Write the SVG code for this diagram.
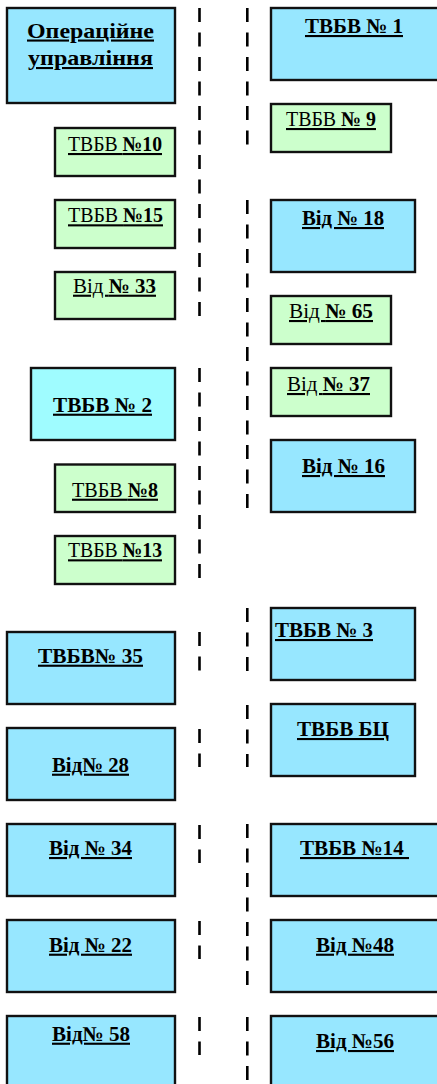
<svg xmlns="http://www.w3.org/2000/svg" width="437" height="1084" viewBox="0 0 437 1084">
<style>
.b{fill:#97e7ff;stroke:#111;stroke-width:2.4}
.c{fill:#9ffcff;stroke:#111;stroke-width:2.4}
.g{fill:#ccffcc;stroke:#111;stroke-width:2.4}
text{font-family:"Liberation Serif","Times New Roman",serif;font-size:21px;fill:#000;text-decoration:underline}
.bd{font-weight:bold}
.n{font-weight:normal}
.d{stroke:#000;stroke-width:2.6;stroke-dasharray:14 10.5;fill:none}
</style>
<rect width="437" height="1084" fill="#fff"/>
<g id="connectors">
<line class="d" x1="199.5" y1="8" x2="199.5" y2="316"/>
<line class="d" x1="199.5" y1="368" x2="199.5" y2="578"/>
<line class="d" x1="199.5" y1="632" x2="199.5" y2="671"/>
<line class="d" x1="199.5" y1="729" x2="199.5" y2="767"/>
<line class="d" x1="199.5" y1="825" x2="199.5" y2="863"/>
<line class="d" x1="199.5" y1="921" x2="199.5" y2="959"/>
<line class="d" x1="199.5" y1="1017" x2="199.5" y2="1055"/>
<line class="d" x1="247.3" y1="8" x2="247.3" y2="145"/>
<line class="d" x1="247.3" y1="200" x2="247.3" y2="508"/>
<line class="d" x1="247.3" y1="608" x2="247.3" y2="671"/>
<line class="d" x1="247.3" y1="705" x2="247.3" y2="767"/>
<line class="d" x1="247.3" y1="824" x2="247.3" y2="985"/>
<line class="d" x1="247.3" y1="1017" x2="247.3" y2="1084"/>
</g>
<g id="n-oper"><rect class="b" x="7" y="8" width="168" height="95"/>
<text class="bd" x="27" y="37.5" textLength="127" lengthAdjust="spacingAndGlyphs">Операційне</text>
<text class="bd" x="28" y="65" textLength="125" lengthAdjust="spacingAndGlyphs">управління</text></g>
<g id="n-tvbv10"><rect class="g" x="55" y="128" width="120" height="48"/>
<text x="68" y="151" textLength="94" lengthAdjust="spacingAndGlyphs"><tspan class="n">ТВБВ </tspan><tspan class="bd">№10</tspan></text></g>
<g id="n-tvbv15"><rect class="g" x="55" y="200" width="120" height="48"/>
<text x="68" y="222.3" textLength="95" lengthAdjust="spacingAndGlyphs"><tspan class="n">ТВБВ </tspan><tspan class="bd">№15</tspan></text></g>
<g id="n-vid33"><rect class="g" x="55" y="272" width="120" height="47"/>
<text x="73" y="292.7" textLength="83" lengthAdjust="spacingAndGlyphs"><tspan class="n">Від </tspan><tspan class="bd">№ 33</tspan></text></g>
<g id="n-tvbv2"><rect class="c" x="31" y="368" width="144" height="72"/>
<text class="bd" x="53" y="411.7" textLength="99" lengthAdjust="spacingAndGlyphs">ТВБВ № 2</text></g>
<g id="n-tvbv8"><rect class="g" x="55" y="464.5" width="120" height="47.5"/>
<text x="72" y="496.7" textLength="86" lengthAdjust="spacingAndGlyphs"><tspan class="n">ТВБВ </tspan><tspan class="bd">№8</tspan></text></g>
<g id="n-tvbv13"><rect class="g" x="55" y="536" width="120" height="48"/>
<text x="68" y="557.3" textLength="94" lengthAdjust="spacingAndGlyphs"><tspan class="n">ТВБВ </tspan><tspan class="bd">№13</tspan></text></g>
<g id="n-tvbv35"><rect class="b" x="7" y="632" width="168" height="72"/>
<text class="bd" x="38" y="662.7" textLength="105" lengthAdjust="spacingAndGlyphs">ТВБВ№ 35</text></g>
<g id="n-vid28"><rect class="b" x="7" y="728" width="168" height="72"/>
<text class="bd" x="52" y="771.7" textLength="77" lengthAdjust="spacingAndGlyphs">Від№ 28</text></g>
<g id="n-vid34"><rect class="b" x="7" y="824" width="168" height="72"/>
<text class="bd" x="49" y="855" textLength="83" lengthAdjust="spacingAndGlyphs">Від № 34</text></g>
<g id="n-vid22"><rect class="b" x="7" y="920" width="168" height="72"/>
<text class="bd" x="49" y="951.7" textLength="83" lengthAdjust="spacingAndGlyphs">Від № 22</text></g>
<g id="n-vid58"><rect class="b" x="7" y="1016" width="168" height="80"/>
<text class="bd" x="52" y="1040.7" textLength="78" lengthAdjust="spacingAndGlyphs">Від№ 58</text></g>
<g id="n-tvbv1"><rect class="b" x="271" y="8" width="180" height="72"/>
<text class="bd" x="305" y="33" textLength="98" lengthAdjust="spacingAndGlyphs">ТВБВ № 1</text></g>
<g id="n-tvbv9"><rect class="g" x="271" y="104" width="120" height="48"/>
<text x="286" y="126" textLength="90" lengthAdjust="spacingAndGlyphs"><tspan class="n">ТВБВ </tspan><tspan class="bd">№ 9</tspan></text></g>
<g id="n-vid18"><rect class="b" x="271" y="200" width="144" height="72"/>
<text class="bd" x="302" y="225" textLength="82" lengthAdjust="spacingAndGlyphs">Від № 18</text></g>
<g id="n-vid65"><rect class="g" x="271" y="296" width="120" height="48"/>
<text x="289" y="318" textLength="84" lengthAdjust="spacingAndGlyphs"><tspan class="n">Від </tspan><tspan class="bd">№ 65</tspan></text></g>
<g id="n-vid37"><rect class="g" x="271" y="368" width="120" height="48"/>
<text x="287" y="391" textLength="83" lengthAdjust="spacingAndGlyphs"><tspan class="n">Від </tspan><tspan class="bd">№ 37</tspan></text></g>
<g id="n-vid16"><rect class="b" x="271" y="440" width="144" height="72"/>
<text class="bd" x="302" y="473" textLength="83" lengthAdjust="spacingAndGlyphs">Від № 16</text></g>
<g id="n-tvbv3"><rect class="b" x="271" y="608" width="144" height="72"/>
<text class="bd" x="275" y="637" textLength="98" lengthAdjust="spacingAndGlyphs">ТВБВ № 3</text></g>
<g id="n-tvbvbc"><rect class="b" x="271" y="704" width="144" height="72"/>
<text class="bd" x="297" y="736" textLength="92" lengthAdjust="spacingAndGlyphs">ТВБВ БЦ</text></g>
<g id="n-tvbv14"><rect class="b" x="271" y="824" width="180" height="72"/>
<text class="bd" x="300" y="855" textLength="109" lengthAdjust="spacingAndGlyphs" xml:space="preserve">ТВБВ №14 </text></g>
<g id="n-vid48"><rect class="b" x="271" y="920" width="180" height="72"/>
<text class="bd" x="316" y="951.7" textLength="78" lengthAdjust="spacingAndGlyphs">Від №48</text></g>
<g id="n-vid56"><rect class="b" x="271" y="1016" width="180" height="80"/>
<text class="bd" x="316" y="1048" textLength="78" lengthAdjust="spacingAndGlyphs">Від №56</text></g>
</svg>
